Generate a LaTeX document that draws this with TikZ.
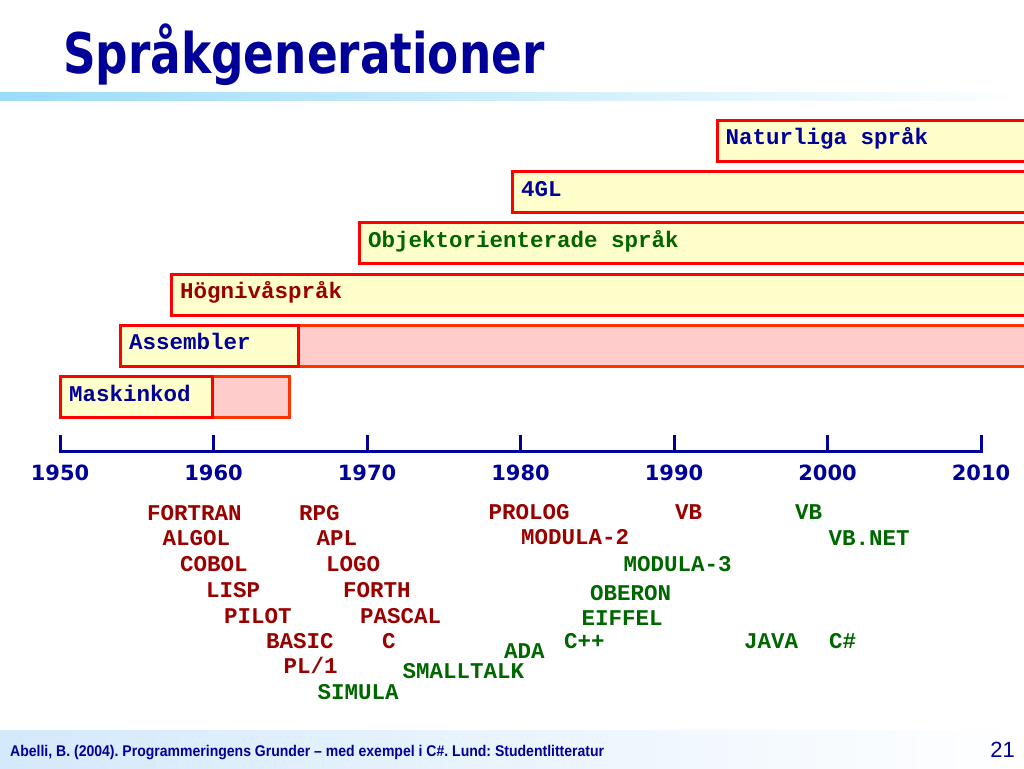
\documentclass[tikz,border=0pt]{standalone}
\usepackage{fontspec}
\usepackage{xcolor}
\setmainfont{Liberation Sans}
\newfontfamily\verdfont{DejaVu Sans}
\newfontfamily\courfont{Liberation Mono}

\definecolor{navy}{RGB}{0,0,153}
\definecolor{darkred}{RGB}{153,0,0}
\definecolor{darkgreen}{RGB}{0,102,0}
\definecolor{boxyellow}{RGB}{255,255,204}
\definecolor{boxpink}{RGB}{255,204,204}
\definecolor{boxred}{RGB}{255,0,0}
\definecolor{pinkedge}{RGB}{255,51,0}
\definecolor{titlebar}{RGB}{155,220,247}
\definecolor{footband}{RGB}{212,233,252}

\tikzset{
  genbox/.style={draw=boxred, fill=boxyellow, line width=3pt, anchor=north west,
    outer sep=0pt, minimum height=41pt, inner sep=0pt},
  restbox/.style={genbox, draw=pinkedge, fill=boxpink},
  genlabel/.style={anchor=west, inner sep=0pt, xshift=8.5pt, text height=15pt, text depth=6.6pt,
    font=\courfont\bfseries\fontsize{22.5}{24}\selectfont},
  lang/.style={anchor=base west, inner sep=0pt, font=\courfont\bfseries\fontsize{22.5}{24}\selectfont},
  oldlang/.style={lang, text=darkred},
  newlang/.style={lang, text=darkgreen},
  year/.style={anchor=base, inner sep=0pt, text=navy, font=\verdfont\bfseries\fontsize{21}{24}\selectfont}
}

\begin{document}
\begin{tikzpicture}[x=1pt,y=-1pt]
\clip (0,0) rectangle (1024,768);

% bands
\shade[left color=titlebar, right color=white] (0,92) rectangle (1024,100);
\shade[left color=footband, right color=white] (0,730) rectangle (1024,768);

\node[anchor=base west, inner sep=0pt, text=navy] (title) at (63,74)
  {\scalebox{0.81}[1]{\verdfont\bfseries\fontsize{56}{60}\selectfont Språkgenerationer}};

% generations
\node[genbox, minimum width=330pt] (nat) at (717,120) {};
\node[genbox, minimum width=530pt] (gl4) at (512.5,171.5) {};
\node[genbox, minimum width=690pt] (obj) at (359.5,222.5) {};
\node[genbox, minimum width=880pt] (hog) at (171.5,274) {};
\node[restbox, minimum width=742pt] (assrest) at (298,325) {};
\node[genbox, minimum width=177.5pt] (ass) at (120.5,325) {};
\node[restbox, minimum width=77pt] (maskrest) at (212.5,376.5) {};
\node[genbox, minimum width=152pt] (mask) at (60.5,376.5) {};

\node[genlabel, text=navy] (natlabel) at (nat.west) {Naturliga språk};
\node[genlabel, text=navy] (gl4label) at (gl4.west) {4GL};
\node[genlabel, text=darkgreen] (objlabel) at (obj.west) {Objektorienterade språk};
\node[genlabel, text=darkred] (hoglabel) at (hog.west) {Högnivåspråk};
\node[genlabel, text=navy] (asslabel) at (ass.west) {Assembler};
\node[genlabel, text=navy] (masklabel) at (mask.west) {Maskinkod};

% time axis
\foreach \i/\yr in {0/1950,1/1960,2/1970,3/1980,4/1990,5/2000,6/2010}{
  \coordinate (t\i) at (60+153.5*\i,451);
  \draw[navy, line width=3pt] (t\i) -- ++(0,-16);
  \node[year] (y\i) at (60+153.5*\i,480.5) {\yr};
}
\draw[navy, line width=3pt, line cap=rect] (t0) -- (t6);

% languages
\node[oldlang] (fortran) at (147,520.5) {FORTRAN};
\node[oldlang] (algol) at (162.5,545.5) {ALGOL};
\node[oldlang] (cobol) at (180,571.5) {COBOL};
\node[oldlang] (lisp) at (206,597) {LISP};
\node[oldlang] (pilot) at (224,623) {PILOT};
\node[oldlang] (basic) at (266,648) {BASIC};
\node[oldlang] (pl1) at (283.5,673.5) {PL/1};
\node[newlang] (simula) at (317.5,699.5) {SIMULA};
\node[oldlang] (rpg) at (299,520.5) {RPG};
\node[oldlang] (apl) at (316.5,545.5) {APL};
\node[oldlang] (logo) at (326,571.5) {LOGO};
\node[oldlang] (forth) at (343,597) {FORTH};
\node[oldlang] (pascal) at (360,623) {PASCAL};
\node[oldlang] (clang) at (382,648) {C};
\node[newlang] (smalltalk) at (402.5,678.5) {SMALLTALK};
\node[newlang] (ada) at (504,658) {ADA};
\node[oldlang] (prolog) at (488.5,519.5) {PROLOG};
\node[oldlang] (modula2) at (521,544.5) {MODULA-2};
\node[oldlang] (vbold) at (675,519.5) {VB};
\node[newlang] (modula3) at (623.5,571.5) {MODULA-3};
\node[newlang] (oberon) at (590,600.5) {OBERON};
\node[newlang] (eiffel) at (581.5,625.5) {EIFFEL};
\node[newlang] (cpp) at (564,648) {C++};
\node[newlang] (java) at (744,648) {JAVA};
\node[newlang] (csharp) at (829,648) {C\#};
\node[newlang] (vbnew) at (795,519.5) {VB};
\node[newlang] (vbnet) at (828.5,545.5) {VB.NET};

% footer
\node[anchor=base west, inner sep=0pt, text=navy] (source) at (10,756.7)
  {\scalebox{0.905}[1]{\frenchspacing\bfseries\fontsize{15.5}{18}\selectfont Abelli, B. (2004). Programmeringens Grunder -- med exempel i C\#. Lund: Studentlitteratur}};
\node[anchor=base, inner sep=0pt, text=navy] (page) at (1002.5,757.3) {\fontsize{22}{24}\selectfont 21};
\end{tikzpicture}
\end{document}
